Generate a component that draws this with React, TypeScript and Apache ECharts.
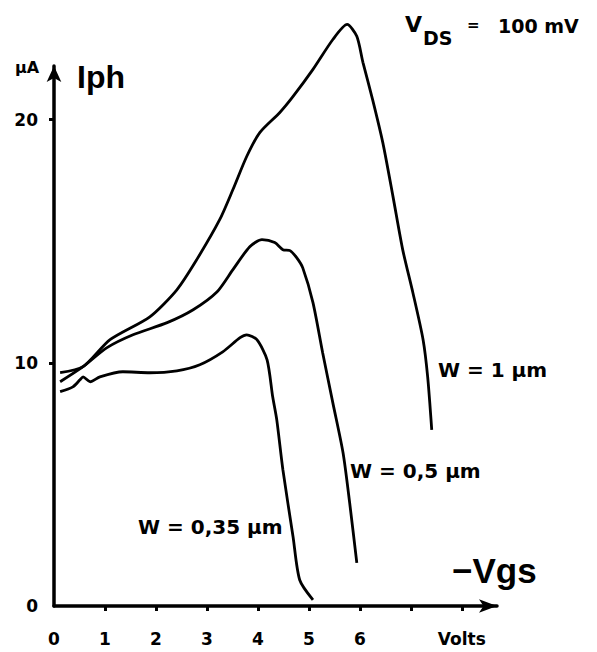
import React, { useEffect, useRef } from "react";
import * as echarts from "echarts";

// -Vgs (V) and Iph (µA)
const w1Vgs = [0.12, 0.57, 1.1, 1.88, 2.41, 2.8, 3.25, 3.51, 3.78, 4.04, 4.43, 4.69, 5.08, 5.47, 5.75, 5.94, 6.06, 6.25, 6.45, 6.65, 6.84, 7.04, 7.24, 7.33, 7.41];
const w1Iph = [9.59, 9.84, 10.95, 11.89, 13.0, 14.24, 15.88, 17.12, 18.48, 19.47, 20.29, 20.95, 22.06, 23.29, 23.91, 23.42, 22.35, 20.82, 19.05, 16.83, 14.65, 12.88, 10.95, 9.42, 7.24];

const w05Vgs = [0.12, 0.57, 1.04, 1.55, 2.22, 2.73, 3.2, 3.51, 3.84, 4.08, 4.33, 4.49, 4.63, 4.76, 4.88, 5.08, 5.27, 5.47, 5.67, 5.8, 5.94];
const w05Iph = [9.22, 9.84, 10.62, 11.15, 11.65, 12.18, 12.92, 13.83, 14.77, 15.06, 14.94, 14.65, 14.61, 14.32, 13.9, 12.47, 10.41, 8.35, 6.3, 4.24, 1.77];

const w035Vgs = [0.12, 0.37, 0.51, 0.57, 0.71, 0.9, 1.35, 1.88, 2.41, 2.86, 3.31, 3.65, 3.78, 3.98, 4.18, 4.29, 4.37, 4.49, 4.69, 4.82, 5.08];
const w035Iph = [8.81, 9.01, 9.3, 9.42, 9.22, 9.42, 9.63, 9.59, 9.67, 9.92, 10.45, 11.03, 11.15, 10.95, 10.12, 8.6, 7.65, 5.6, 2.84, 1.07, 0.25];

const xTickValues = [1, 2, 3, 4, 5, 6, 7, 8];
const xLabelValues = [0, 1, 2, 3, 4, 5, 6, 8];
const yTickValues = [10, 20];
const yLabelValues = [0, 10, 20];

const zip = (xs: number[], ys: number[]) => xs.map((x, i) => [x, ys[i]]);

const LAB = "DejaVu Sans";
const HEAD = "Liberation Sans";

export default function App() {
  const ref = useRef<HTMLDivElement>(null);
  useEffect(() => {
    const chart = echarts.init(ref.current!, null, { renderer: "svg" });
    const lineSeries = (name: string, xs: number[], ys: number[]) => ({
      name,
      type: "line",
      data: zip(xs, ys),
      showSymbol: false,
      smooth: 0.25,
      clip: false,
      lineStyle: { color: "#000", width: 2.8 },
    });
    const txt = (text: string, x: number, y: number, size: number, family = LAB) => ({
      type: "text",
      x,
      y,
      style: {
        text,
        fill: "#000",
        font: `bold ${size}px "${family}"`,
        align: "left",
        verticalAlign: "middle",
      },
    });
    chart.setOption({
      animation: false,
      backgroundColor: "#fff",
      grid: { left: 54, top: 66, right: 100, bottom: 46 },
      xAxis: {
        type: "value",
        min: 0,
        max: 8.69,
        interval: 1,
        splitLine: { show: false },
        axisLine: {
          show: true,
          onZero: false,
          symbol: ["none", "arrow"],
          symbolSize: [10, 18],
          lineStyle: { color: "#000", width: 3.5 },
        },
        axisTick: {
          show: true,
          customValues: xTickValues,
          length: 5,
          lineStyle: { color: "#000", width: 3 },
        },
        axisLabel: {
          customValues: xLabelValues,
          margin: 24,
          color: "#000",
          fontFamily: LAB,
          fontWeight: "bold",
          fontSize: 17,
          formatter: (v: number) => (v === 8 ? "Volts" : String(v)),
        },
      },
      yAxis: {
        type: "value",
        min: 0,
        max: 22.2,
        interval: 10,
        splitLine: { show: false },
        axisLine: {
          show: true,
          onZero: false,
          symbol: ["none", "arrow"],
          symbolSize: [11, 16],
          lineStyle: { color: "#000", width: 3.5 },
        },
        axisTick: {
          show: true,
          customValues: yTickValues,
          length: 5,
          lineStyle: { color: "#000", width: 3 },
        },
        axisLabel: {
          customValues: yLabelValues,
          margin: 16,
          color: "#000",
          fontFamily: LAB,
          fontWeight: "bold",
          fontSize: 17,
        },
      },
      series: [
        lineSeries("W = 1 µm", w1Vgs, w1Iph),
        lineSeries("W = 0,5 µm", w05Vgs, w05Iph),
        lineSeries("W = 0,35 µm", w035Vgs, w035Iph),
      ],
      graphic: [
        txt("µA", 15, 67, 16),
        txt("Iph", 77, 77, 32, HEAD),
        txt("V", 405, 24, 22),
        txt("DS", 423, 38, 19),
        txt("=", 467, 25, 15),
        txt("100 mV", 498, 26, 19),
        txt("−Vgs", 452, 570, 35, HEAD),
        txt("W = 1 µm", 438, 370, 20),
        txt("W = 0,5 µm", 350, 471, 20),
        txt("W = 0,35 µm", 138, 527, 20),
      ],
    });
    return () => chart.dispose();
  }, []);
  return (
    <div
      ref={ref}
      style={{ position: "absolute", left: 0, top: 0, width: 597, height: 652, background: "#fff" }}
    />
  );
}
